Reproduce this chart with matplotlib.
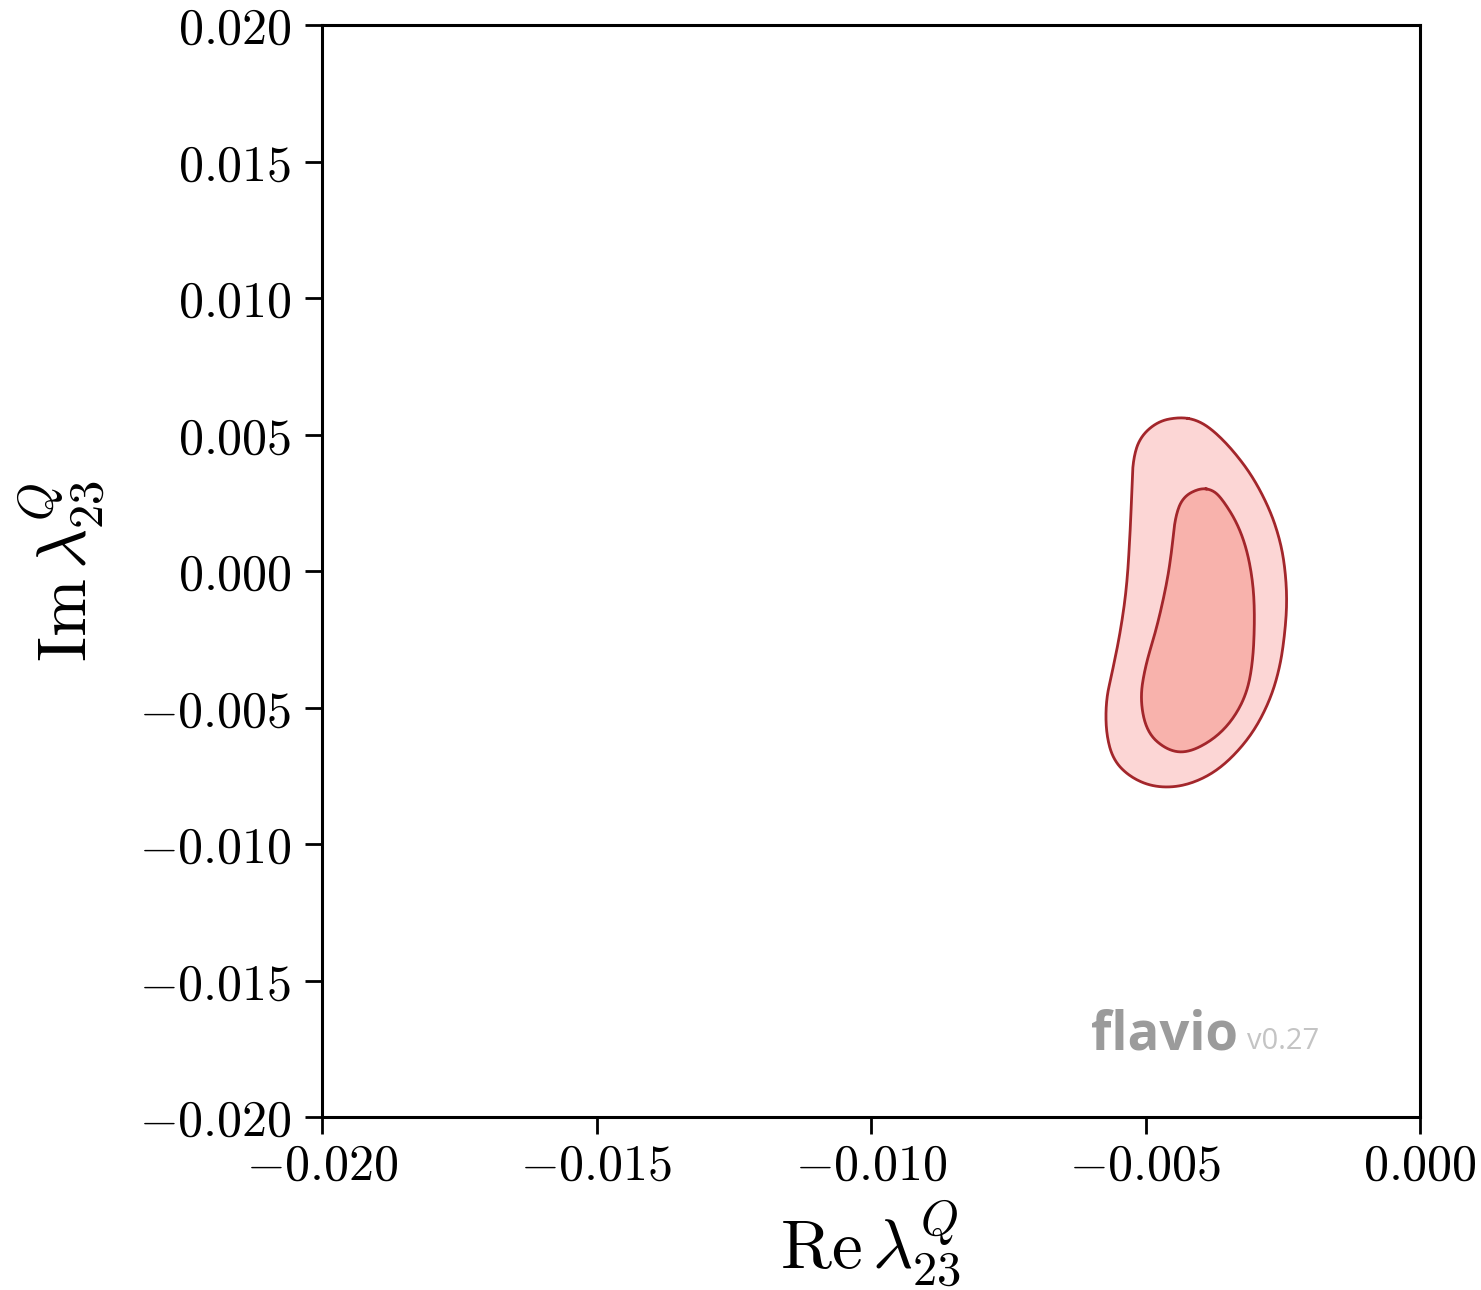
import numpy as np
import matplotlib
matplotlib.use("Agg")
import matplotlib.pyplot as plt

# ---- data ----
outer_re = [-0.00437, -0.00406, -0.00377, -0.00341, -0.00304, -0.00273, -0.00255, -0.00246,
            -0.00242, -0.00246, -0.00255, -0.00273, -0.00304, -0.00346, -0.00388, -0.00437,
            -0.00486, -0.00528, -0.00559, -0.00572, -0.00572, -0.00561, -0.00546, -0.00534,
            -0.00528, -0.00525, -0.00523, -0.00510, -0.00477]
outer_im = [0.00564, 0.00553, 0.00516, 0.00443, 0.00344, 0.00223, 0.00114, 0.00015,
            -0.00106, -0.00227, -0.00352, -0.00473, -0.00593, -0.00692, -0.00755, -0.00791,
            -0.00791, -0.00755, -0.00692, -0.00593, -0.00473, -0.00374, -0.00227, -0.00059,
            0.00139, 0.00286, 0.00407, 0.00491, 0.00549]

inner_re = [-0.00401, -0.00377, -0.00359, -0.00333, -0.00315, -0.00304, -0.00301, -0.00304,
            -0.00315, -0.00341, -0.00377, -0.00424, -0.00461, -0.00497, -0.00510, -0.00501,
            -0.00479, -0.00461, -0.00452, -0.00446, -0.00432]
inner_im = [0.00304, 0.00297, 0.00260, 0.00176, 0.00077, -0.00044, -0.00168, -0.00326,
            -0.00447, -0.00546, -0.00619, -0.00667, -0.00656, -0.00593, -0.00473, -0.00352,
            -0.00205, -0.00044, 0.00077, 0.00198, 0.00271]

ticks = [-0.020, -0.015, -0.010, -0.005, 0.000]
tick_labels = [r"$-0.020$", r"$-0.015$", r"$-0.010$", r"$-0.005$", r"$0.000$"]
yticks = [-0.020, -0.015, -0.010, -0.005, 0.000, 0.005, 0.010, 0.015, 0.020]
ytick_labels = [r"$-0.020$", r"$-0.015$", r"$-0.010$", r"$-0.005$", r"$0.000$",
                r"$0.005$", r"$0.010$", r"$0.015$", r"$0.020$"]
xlabel = r"$\mathrm{Re}\,\lambda^{Q}_{23}$"
ylabel = r"$\mathrm{Im}\,\lambda^{Q}_{23}$"


def chaikin(x, y, n=4):
    p = np.column_stack([x, y])
    for _ in range(n):
        q = np.roll(p, -1, axis=0)
        a = 0.75 * p + 0.25 * q
        b = 0.25 * p + 0.75 * q
        p = np.empty((2 * len(a), 2))
        p[0::2] = a
        p[1::2] = b
    p = np.vstack([p, p[:1]])
    return p[:, 0], p[:, 1]


plt.rcParams['mathtext.fontset'] = 'cm'

fig = plt.figure(figsize=(14.81, 12.90), dpi=100)
ax = fig.add_axes([322 / 1481, 1 - 1117 / 1290, 1098 / 1481, 1092 / 1290])

ox, oy = chaikin(outer_re, outer_im)
ix, iy = chaikin(inner_re, inner_im)
ax.fill(ox, oy, color='#fcd6d5', zorder=1)
ax.fill(ix, iy, color='#f8b2ac', zorder=2)
ax.plot(ox, oy, color='#a3262b', lw=2.0, zorder=3)
ax.plot(ix, iy, color='#a3262b', lw=2.0, zorder=3)

ax.set_xlim(-0.020, 0.000)
ax.set_ylim(-0.020, 0.020)
ax.set_xticks(ticks)
ax.set_xticklabels(tick_labels)
ax.set_yticks(yticks)
ax.set_yticklabels(ytick_labels)
ax.tick_params(direction='out', length=12, width=2.0, labelsize=36)
ax.tick_params(axis='x', pad=6)
ax.tick_params(axis='y', pad=10)
for s in ax.spines.values():
    s.set_linewidth(2.2)

ax.set_xlabel(xlabel, fontsize=50, labelpad=6)
ax.set_ylabel(ylabel, fontsize=50, labelpad=22)

ax.text(0.700, 0.062, "flavio", transform=ax.transAxes, fontsize=38, fontweight='bold',
        color='#9b9b9b', family='Open Sans', ha='left', va='baseline')
ax.text(0.842, 0.062, "v0.27", transform=ax.transAxes, fontsize=21,
        color='#c4c4c4', family='Open Sans', ha='left', va='baseline')

fig.savefig("out.png", dpi=100)
